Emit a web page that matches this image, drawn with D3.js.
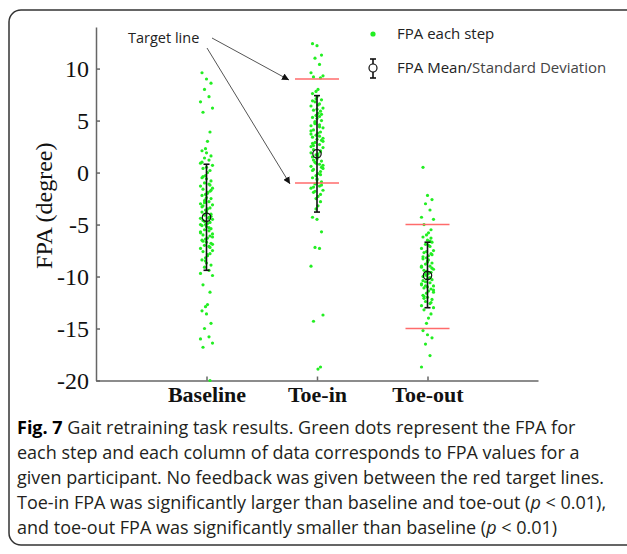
<!DOCTYPE html>
<html>
<head>
<meta charset="utf-8">
<script src="https://cdn.jsdelivr.net/npm/d3@7"></script>
<style>
  body { margin: 0; background: #fff; }
  svg { display: block; }
</style>
</head>
<body>
<div id="chart"></div>
<script>
// categories and tick values
const categories = ["Baseline", "Toe-in", "Toe-out"];
const yTicks = [-20, -15, -10, -5, 0, 5, 10];

// FPA of each step (degree)
const baselineFPA = [9.6, 9.0, 8.6, 8.0, 7.3, 6.8, 6.2, 5.8, 3.9, 3.0,
  2.3, 2.1, 1.9, 1.6, 1.4, 1.2, 0.9, 0.7, 0.4, 0.2, 0.0, -0.3, -0.5, -0.6, -0.8,
  -1.0, -1.1, -1.3, -1.5, -1.6, -1.8, -1.9, -2.1, -2.2, -2.4, -2.5, -2.7, -2.8,
  -3.0, -3.1, -3.2, -3.4, -3.5, -3.6, -3.8, -3.9, -4.0, -4.1, -4.3, -4.4, -4.5,
  -4.6, -4.8, -4.9, -5.0, -5.1, -5.2, -5.4, -5.5, -5.6, -5.7, -5.9, -6.0, -6.1,
  -6.3, -6.4, -6.5, -6.7, -6.8, -7.0, -7.1, -7.3, -7.5, -7.6, -7.8, -8.0, -8.2,
  -8.4, -8.7, -8.9, -9.1, -9.4, -9.7, -9.9,
  -0.4, -1.2, -2.0, -2.6, -3.3, -3.7, -4.2, -4.7, -5.3, -5.8, -6.2, -6.6, -7.2,
  -7.9, -8.5, 1.0, 0.5, -1.7, -2.9, -4.4, -5.0, -6.9,
  -10.8, -11.5, -12.7, -12.9, -13.3, -13.6, -14.5, -15.0, -15.8, -16.0, -16.4, -16.8, -20.0];

const toeInFPA = [12.4, 12.2, 11.3, 11.0, 10.4, 9.6, 9.3, 9.2, 9.1,
  8.0, 7.8, 7.6, 7.3, 7.0, 6.8, 6.6, 6.4, 6.2, 6.0, 5.9, 5.7, 5.5, 5.3, 5.2, 5.0,
  4.8, 4.6, 4.5, 4.3, 4.1, 3.9, 3.8, 3.6, 3.4, 3.2, 3.1, 2.9, 2.7, 2.5, 2.4, 2.2,
  2.0, 1.8, 1.7, 1.5, 1.3, 1.1, 1.0, 0.8, 0.6, 0.4, 0.3, 0.1, -0.1, -0.3, -0.5,
  -0.7, -0.9, -1.1, -1.3, -1.5, -1.7, -1.9, -2.1, -2.3, -2.5,
  6.9, 6.1, 5.6, 4.9, 4.4, 3.7, 3.0, 2.6, 2.1, 1.6, 0.9, 0.2, -0.6, -1.2, -1.8,
  5.4, 4.0, 3.3, 1.2, -0.2, 6.5, 7.1, 2.8, -1.0, 0.5, 4.7, 3.5, 1.9, 0.7, -1.4,
  -2.8, -3.2, -3.5, -4.3, -4.5, -5.7, -7.2, -7.3, -9.0, -13.7, -14.3, -18.7, -18.9];

const toeOutFPA = [0.5, -2.2, -2.6, -3.0, -3.6, -4.3, -4.5, -5.0,
  -5.5, -5.8, -6.0, -6.2, -6.5, -6.7, -6.9, -7.1, -7.3, -7.5, -7.7, -7.8, -8.0,
  -8.2, -8.3, -8.5, -8.7, -8.8, -9.0, -9.1, -9.3, -9.4, -9.6, -9.7, -9.9, -10.0,
  -10.2, -10.3, -10.5, -10.6, -10.8, -10.9, -11.1, -11.2, -11.4, -11.6, -11.8,
  -12.0, -12.2, -12.4, -12.6, -12.8, -13.0, -13.2,
  -6.3, -7.0, -7.6, -8.1, -8.6, -9.2, -9.8, -10.1, -10.7, -11.3, -11.9, -12.5,
  -8.4, -9.5, -10.4, -11.0, -7.9, -10.9, -6.6, -9.0, -11.5, -12.1,
  -13.6, -14.0, -14.5, -15.2, -15.6, -15.9, -16.5, -17.6, -18.7];

// mean and mean +/- SD
const meanFPA = [-4.3, 1.8, -9.9];
const sdUpper = [0.8, 7.4, -6.7];
const sdLower = [-9.4, -3.8, -13.0];

// red target lines (Baseline has none)
const targetUpper = [null, 9, -5];
const targetLower = [null, -1, -15];

const captionLines = [
  [{t: "Fig. 7", b: true}, {t: " Gait retraining task results. Green dots represent the FPA for"}],
  [{t: "each step and each column of data corresponds to FPA values for a"}],
  [{t: "given participant. No feedback was given between the red target lines."}],
  [{t: "Toe-in FPA was significantly larger than baseline and toe-out ("}, {t: "p", i: true}, {t: " < 0.01),"}],
  [{t: "and toe-out FPA was significantly smaller than baseline ("}, {t: "p", i: true}, {t: " < 0.01)"}]
];

const W = 627, H = 554;
const svg = d3.select("#chart").append("svg")
  .attr("width", W)
  .attr("height", H);

svg.append("rect")
  .attr("x", 9).attr("y", 10)
  .attr("width", 640).attr("height", 535)
  .attr("rx", 12)
  .attr("fill", "#fff")
  .attr("stroke", "#333")
  .attr("stroke-width", 1.5);

let x = d3.scaleLinear().domain([0, 4]).range([96, 538]);
let y = d3.scaleLinear().domain([-20, 14]).range([380.5, 27]);

const groups = [baselineFPA, toeInFPA, toeOutFPA];
const jitter = [-4.5, 0, 4.5, -2, 2.5, -6, 6, -3.5, 3.5, 1, -1];

let points = [];
groups.forEach((vals, g) => {
  vals.forEach((v, i) => points.push({g: g + 1, v: v, dx: jitter[i % jitter.length]}));
});

// axes
let yAxis = svg.append("g")
  .attr("transform", "translate(" + x(0) + ",0)")
  .call(d3.axisLeft(y).tickValues(yTicks).tickSize(-4).tickSizeOuter(0).tickPadding(7)
    .tickFormat(d => String(d)));
yAxis.selectAll("text")
  .style("font-family", "'Liberation Serif', 'Times New Roman', serif")
  .style("font-size", "24px")
  .attr("fill", "#111");

let xAxis = svg.append("g")
  .attr("transform", "translate(0," + y(-20) + ")")
  .call(d3.axisBottom(x).tickValues([1, 2, 3]).tickSize(-4).tickSizeOuter(0).tickPadding(6)
    .tickFormat((d, i) => categories[i]));
xAxis.selectAll("text")
  .style("font-family", "'Liberation Serif', 'Times New Roman', serif")
  .style("font-size", "22px")
  .style("font-weight", "bold")
  .attr("fill", "#111");

svg.selectAll(".domain, .tick line")
  .attr("stroke", "#666")
  .attr("stroke-width", 1.5);

svg.append("text")
  .attr("transform", "translate(52," + ((y(14) + y(-20)) / 2 + 2) + ") rotate(-90)")
  .attr("text-anchor", "middle")
  .style("font-family", "'Liberation Serif', 'Times New Roman', serif")
  .style("font-size", "24px")
  .attr("fill", "#111")
  .text("FPA (degree)");

// green dots
svg.append("g")
  .selectAll("circle")
  .data(points)
  .enter()
  .append("circle")
  .attr("cx", d => x(d.g) + d.dx)
  .attr("cy", d => y(d.v))
  .attr("r", 1.6)
  .attr("fill", "#22ee22");

// target lines
let tgt = svg.append("g");
[targetUpper, targetLower].forEach(arr => {
  arr.forEach((v, i) => {
    if (v === null) return;
    tgt.append("line")
      .attr("x1", x(i + 1) - 22).attr("x2", x(i + 1) + 22)
      .attr("y1", y(v)).attr("y2", y(v))
      .attr("stroke", "#ff6b6b")
      .attr("stroke-width", 1.5);
  });
});

// error bars
let eb = svg.append("g").attr("stroke", "#111").attr("fill", "none");
meanFPA.forEach((m, i) => {
  let cx = x(i + 1);
  eb.append("line").attr("x1", cx).attr("x2", cx)
    .attr("y1", y(sdUpper[i])).attr("y2", y(sdLower[i])).attr("stroke-width", 1.6);
  [sdUpper[i], sdLower[i]].forEach(v => {
    eb.append("line").attr("x1", cx - 3).attr("x2", cx + 3)
      .attr("y1", y(v)).attr("y2", y(v)).attr("stroke-width", 1.6);
  });
  eb.append("circle").attr("cx", cx).attr("cy", y(m)).attr("r", 4.2).attr("stroke-width", 1.2);
});

// annotation
svg.append("defs").append("marker")
  .attr("id", "arrow")
  .attr("viewBox", "0 0 10 10")
  .attr("refX", 10).attr("refY", 5)
  .attr("markerWidth", 7).attr("markerHeight", 7)
  .attr("markerUnits", "userSpaceOnUse")
  .attr("orient", "auto")
  .append("path")
  .attr("d", "M0,0 L10,5 L0,10 z")
  .attr("fill", "#111");

svg.append("text")
  .attr("x", 128).attr("y", 43)
  .style("font-family", "'Open Sans', sans-serif")
  .style("font-size", "14.5px")
  .attr("fill", "#222")
  .text("Target line");

svg.append("line")
  .attr("x1", 212).attr("y1", 38)
  .attr("x2", x(2) - 28).attr("y2", y(targetUpper[1]) + 1)
  .attr("stroke", "#555").attr("stroke-width", 1)
  .attr("marker-end", "url(#arrow)");
svg.append("line")
  .attr("x1", 207).attr("y1", 48)
  .attr("x2", x(2) - 27).attr("y2", y(targetLower[1]) + 1)
  .attr("stroke", "#555").attr("stroke-width", 1)
  .attr("marker-end", "url(#arrow)");

// legend
let lg = svg.append("g").style("font-family", "'Open Sans', sans-serif").style("font-size", "15px");
lg.append("circle").attr("cx", 373).attr("cy", 34).attr("r", 2.6).attr("fill", "#22ee22");
lg.append("text").attr("x", 397).attr("y", 39).attr("fill", "#222").text("FPA each step");
lg.append("line").attr("x1", 373).attr("x2", 373).attr("y1", 59).attr("y2", 78)
  .attr("stroke", "#111").attr("stroke-width", 1.6);
[59, 78].forEach(v => lg.append("line").attr("x1", 370).attr("x2", 376)
  .attr("y1", v).attr("y2", v).attr("stroke", "#111").attr("stroke-width", 1.6));
lg.append("circle").attr("cx", 373).attr("cy", 68).attr("r", 4).attr("fill", "#fff")
  .attr("stroke", "#111").attr("stroke-width", 1.2);
let lt = lg.append("text").attr("x", 397).attr("y", 73).attr("fill", "#222");
lt.append("tspan").text("FPA Mean/");
lt.append("tspan").attr("fill", "#444").text("Standard Deviation");

// caption
let cap = svg.append("g")
  .style("font-family", "'Open Sans', sans-serif")
  .style("font-size", "18px")
  .attr("fill", "#231f20");
captionLines.forEach((parts, li) => {
  let t = cap.append("text").attr("x", 17).attr("y", 434 + li * 25);
  parts.forEach(p => {
    let s = t.append("tspan").text(p.t);
    if (p.b) s.style("font-weight", "bold").attr("fill", "#000");
    if (p.i) s.style("font-style", "italic");
  });
});
</script>
</body>
</html>
